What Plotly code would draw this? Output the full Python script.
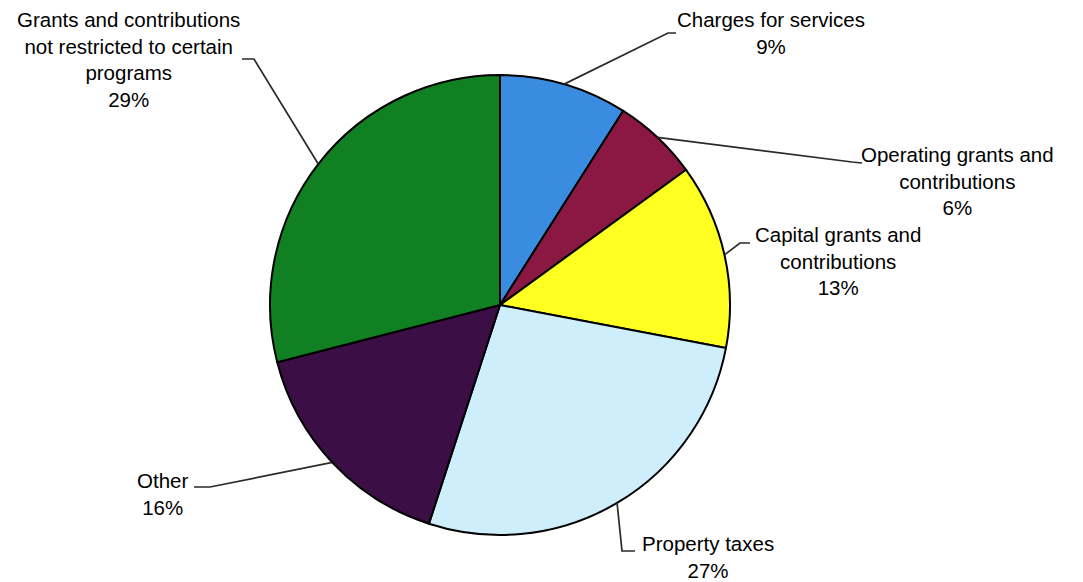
import math
import plotly.graph_objects as go

# ---- data ----
categories = ["Charges for services", "Operating grants and contributions",
              "Capital grants and contributions", "Property taxes", "Other",
              "Grants and contributions not restricted to certain programs"]
percent_values = [9, 6, 13, 27, 16, 29]
label_texts = ["Charges for services<br>9%",
               "Operating grants and<br>contributions<br>6%",
               "Capital grants and<br>contributions<br>13%",
               "Property taxes<br>27%",
               "Other<br>16%",
               "Grants and contributions<br>not restricted to certain<br>programs<br>29%"]
slice_colors = ["#3A8CE0", "#8A1842", "#FFFF22", "#CDEEFA", "#3B0F45", "#118022"]

# ---- layout (pixels) ----
W, H = 1083, 582
CX, CY, R = 500, 305, 230
# label centre positions (px)
label_pos = [(771, 33), (957, 181), (838, 261), (708, 557), (162, 494), (128, 60)]
# leader line elbow and end points (px)
leader_pts = [[(668, 33), (676, 33)],
              [(852, 162), (862, 163)],
              [(740, 243), (750, 243)],
              [(622, 551), (635, 551)],
              [(210, 487), (194, 487)],
              [(254, 59), (242, 59)]]

def px(x, y):
    return x / W, 1 - y / H

fig = go.Figure(go.Pie(
    labels=categories, values=percent_values, sort=False, direction="clockwise",
    rotation=0, textinfo="none", hoverinfo="label+percent",
    marker=dict(colors=slice_colors, line=dict(color="black", width=2)),
    domain=dict(x=[(CX - R) / W, (CX + R) / W], y=[1 - (CY + R) / H, 1 - (CY - R) / H]),
    showlegend=False,
))

total = sum(percent_values)
cum = 0
shapes, annotations = [], []
for v, txt, (lx, ly), pts in zip(percent_values, label_texts, label_pos, leader_pts):
    mid = (cum + v / 2) / total * 2 * math.pi
    cum += v
    sx, sy = CX + R * math.sin(mid), CY - R * math.cos(mid)
    path_pts = [(sx, sy)] + pts
    path = ""
    for i, (x, y) in enumerate(path_pts):
        X, Y = px(x, y)
        path += ("M" if i == 0 else " L") + f"{X:.5f},{Y:.5f}"
    shapes.append(dict(type="path", path=path, xref="paper", yref="paper",
                       line=dict(color="#2a2a2a", width=1.7)))
    ax, ay = px(lx, ly)
    annotations.append(dict(text=txt, x=ax, y=ay, xref="paper", yref="paper",
                            xanchor="center", yanchor="middle", showarrow=False,
                            align="center",
                            font=dict(family="Liberation Sans, Arial", size=20.5, color="black")))

fig.update_layout(width=W, height=H, margin=dict(l=0, r=0, t=0, b=0),
                  paper_bgcolor="white", plot_bgcolor="white",
                  shapes=shapes, annotations=annotations)
fig.write_html("out.html", config={"displayModeBar": False})

# remove the default page margin so the figure sits at the window origin
with open("out.html", "r", encoding="utf-8") as f:
    html = f.read()
html = html.replace("<head>", "<head><style>html,body{margin:0;padding:0;overflow:hidden}</style>", 1)
with open("out.html", "w", encoding="utf-8") as f:
    f.write(html)
